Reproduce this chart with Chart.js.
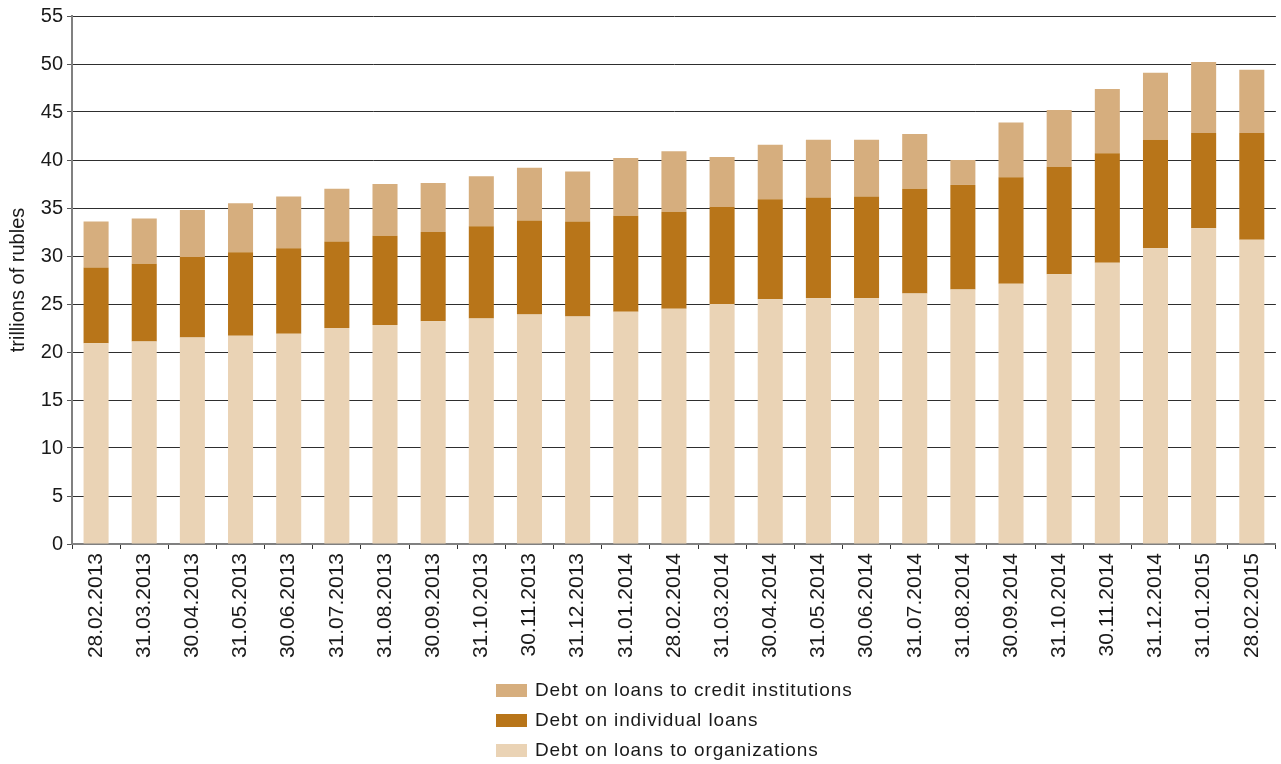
<!DOCTYPE html>
<html lang="en">
<head>
  <meta charset="UTF-8">
  <title>Loan Debt Structure</title>
  <script src="https://cdn.jsdelivr.net/npm/chart.js"></script>
  <style>
    body {
      margin: 0;
      background: #fff;
      font-family: "Liberation Sans", Arial, sans-serif;
    }
    #wrap {
      position: relative;
      width: 1281px;
      height: 764px;
    }
    #legend {
      position: absolute;
      left: 496px;
      top: 675px;
      color: #1a1a1a;
      font-size: 19px;
      letter-spacing: 0.9px;
    }
    .item {
      height: 30px;
      display: flex;
      align-items: center;
    }
    .box {
      width: 31px;
      height: 13px;
      margin-right: 8px;
    }
  </style>
</head>
<body>

  <div id="wrap">
    <canvas id="debtChart" width="1281" height="764"></canvas>
    <div id="legend"></div>
  </div>

  <script>
    const dates = [
      '28.02.2013', '31.03.2013', '30.04.2013', '31.05.2013', '30.06.2013',
      '31.07.2013', '31.08.2013', '30.09.2013', '31.10.2013', '30.11.2013',
      '31.12.2013', '31.01.2014', '28.02.2014', '31.03.2014', '30.04.2014',
      '31.05.2014', '30.06.2014', '31.07.2014', '31.08.2014', '30.09.2014',
      '31.10.2014', '30.11.2014', '31.12.2014', '31.01.2015', '28.02.2015'
    ];

    // trillions of rubles
    const orgLoans = [
      20.9, 21.1, 21.5, 21.7, 21.9, 22.5, 22.8, 23.2, 23.5, 23.9,
      23.7, 24.2, 24.5, 25.0, 25.5, 25.6, 25.6, 26.1, 26.5, 27.1,
      28.1, 29.3, 30.8, 32.9, 31.7
    ];
    const individualLoans = [
      7.9, 8.1, 8.4, 8.7, 8.9, 9.0, 9.3, 9.3, 9.6, 9.8,
      9.9, 10.0, 10.1, 10.1, 10.4, 10.5, 10.6, 10.9, 10.9, 11.1,
      11.2, 11.4, 11.3, 9.9, 11.1
    ];
    const creditInstLoans = [
      4.8, 4.7, 4.9, 5.1, 5.4, 5.5, 5.4, 5.1, 5.2, 5.5,
      5.2, 6.0, 6.3, 5.2, 5.7, 6.0, 5.9, 5.7, 2.6, 5.7,
      5.9, 6.7, 7.0, 7.4, 6.6
    ];

    const seriesNames = [
      'Debt on loans to organizations',
      'Debt on individual loans',
      'Debt on loans to credit institutions'
    ];
    const seriesColors = ['#EAD3B5', '#B87519', '#D6AE7E'];

    const textColor = '#1a1a1a';
    const fontFamily = '"Liberation Sans", Arial, sans-serif';

    const datasets = [orgLoans, individualLoans, creditInstLoans].map((values, i) => ({
      label: seriesNames[i],
      data: values,
      backgroundColor: seriesColors[i],
      borderWidth: 0,
      barPercentage: 0.52,
      categoryPercentage: 1
    }));

    const ctx = document.getElementById('debtChart').getContext('2d');

    const chart = new Chart(ctx, {
      type: 'bar',
      data: { labels: dates, datasets: datasets },
      options: {
        responsive: false,
        animation: false,
        layout: {
          padding: { top: 14, right: 0, bottom: 95, left: 0 }
        },
        plugins: {
          legend: { display: false },
          tooltip: { enabled: false }
        },
        scales: {
          x: {
            stacked: true,
            afterFit: (scale) => { scale.height = 125; },
            grid: {
              offset: true,
              drawOnChartArea: false,
              tickLength: 5,
              color: '#333'
            },
            border: { color: '#808080', width: 2 },
            ticks: {
              minRotation: 90,
              maxRotation: 90,
              autoSkip: false,
              padding: 4,
              color: textColor,
              font: { family: fontFamily, size: 21 }
            }
          },
          y: {
            stacked: true,
            min: 0,
            max: 55,
            afterFit: (scale) => { scale.width = 72; },
            grid: {
              color: '#2e2e2e',
              tickColor: '#555',
              tickLength: 5
            },
            border: { color: '#808080', width: 2 },
            ticks: {
              stepSize: 5,
              padding: 4,
              color: textColor,
              font: { family: fontFamily, size: 20 }
            },
            title: {
              display: true,
              text: 'trillions of rubles',
              color: textColor,
              padding: { top: 6, bottom: 0 },
              font: { family: fontFamily, size: 20 }
            }
          }
        }
      }
    });

    // legend lists the series top-down, same as the stack
    const legend = document.getElementById('legend');
    for (let i = datasets.length - 1; i >= 0; i--) {
      const row = document.createElement('div');
      row.className = 'item';
      row.innerHTML = '<span class="box" style="background:' + seriesColors[i] + '"></span>' +
        '<span>' + seriesNames[i] + '</span>';
      legend.appendChild(row);
    }
  </script>

</body>
</html>
